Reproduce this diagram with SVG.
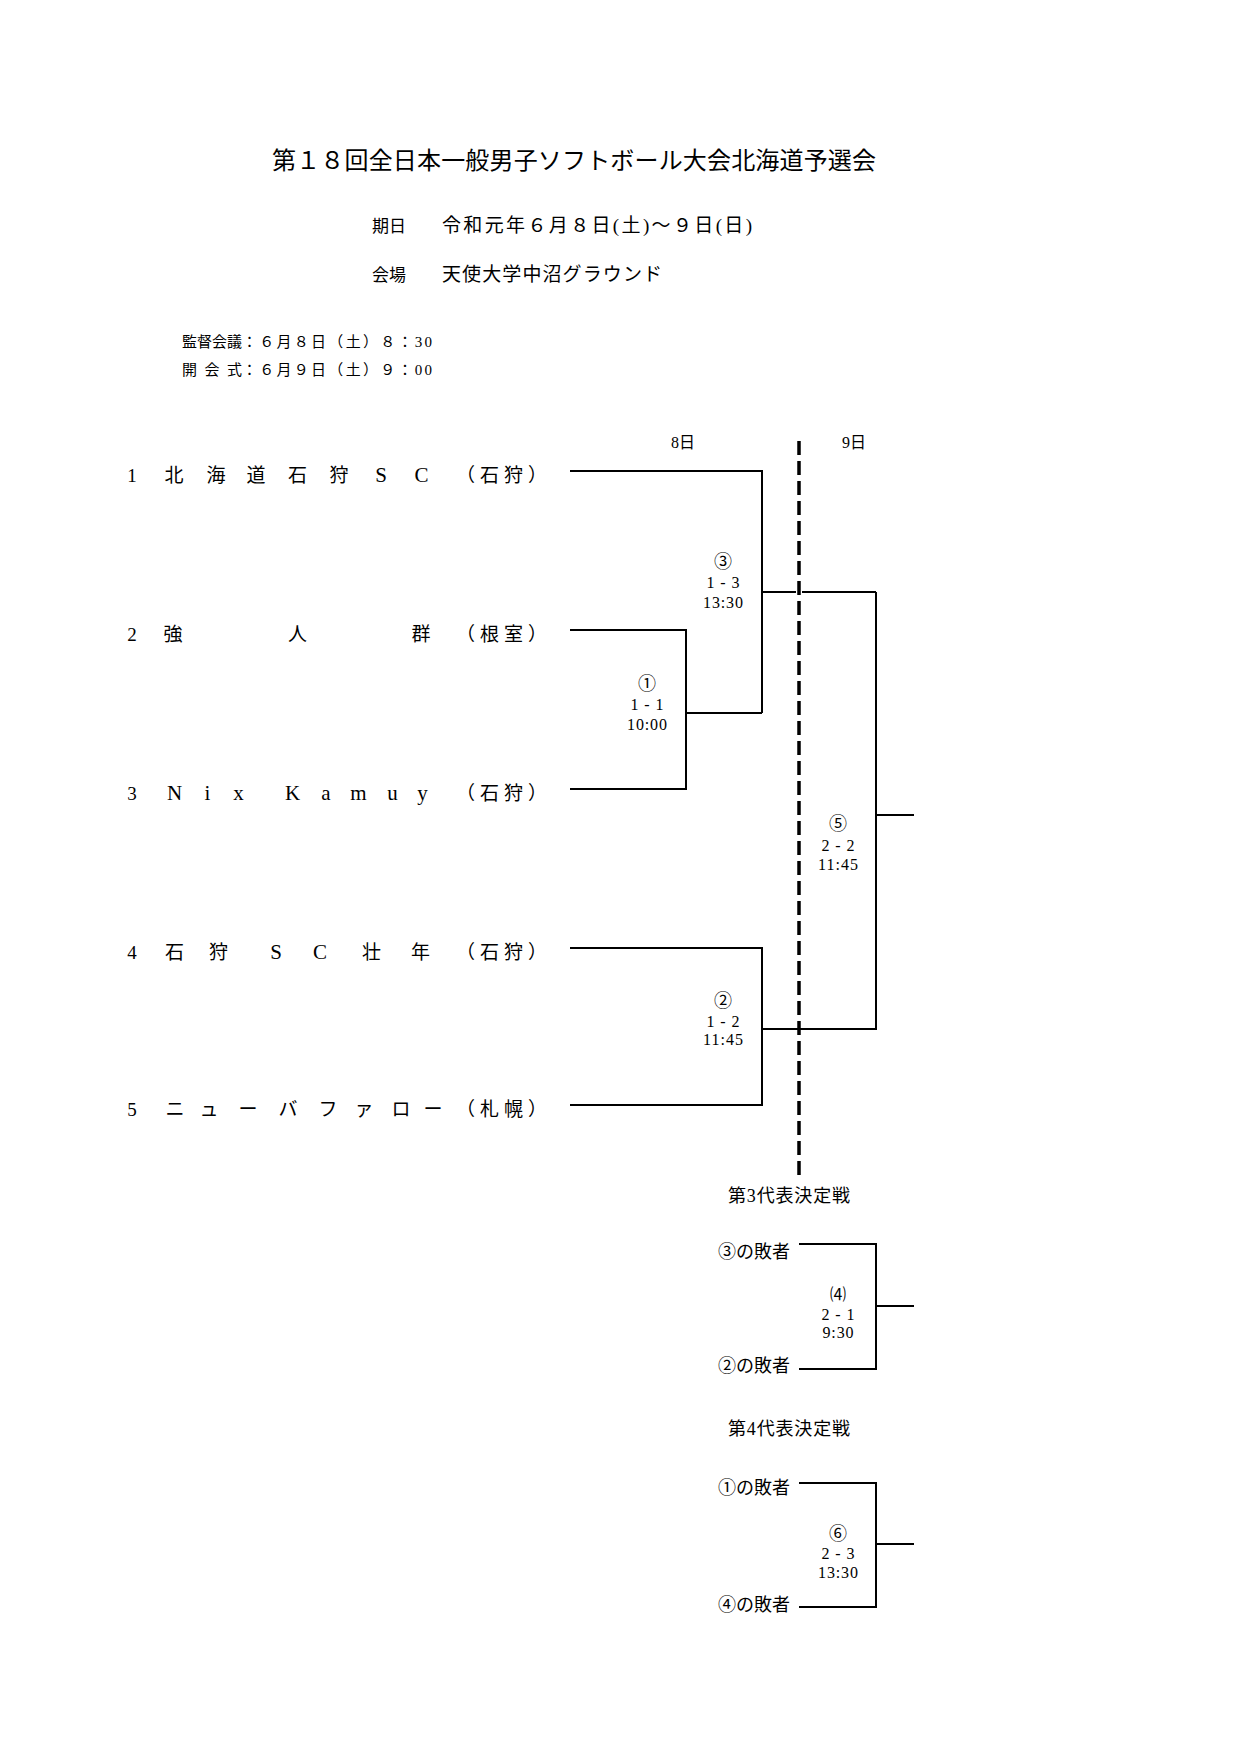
<svg xmlns="http://www.w3.org/2000/svg" width="1239" height="1754" viewBox="0 0 1239 1754">
<style>
text { font-family: "Liberation Serif", "Noto Sans CJK JP", serif; fill: #000; font-weight: normal; }
.team { font-size: 19px; }
.lat { font-size: 21px; }
.mid { text-anchor: middle; }
.reg { letter-spacing: 5px; }
.lbl { font-size: 16px; text-anchor: middle; }
.cn { font-size: 18px; }
.los { font-size: 18px; }
.ln { stroke: #000; stroke-width: 2; fill: none; }
.dash { stroke: #000; stroke-width: 3.5; fill: none; stroke-dasharray: 14 6; }
</style>
<rect width="1239" height="1754" fill="#fff"/>

<g id="header">
  <text x="272" y="169" font-size="24" textLength="604" lengthAdjust="spacing">第１８回全日本一般男子ソフトボール大会北海道予選会</text>
  <text x="372" y="232" font-size="17">期日</text>
  <text x="442" y="232" font-size="19" textLength="310" lengthAdjust="spacing">令和元年６月８日(土)～９日(日)</text>
  <text x="372" y="281" font-size="17">会場</text>
  <text x="442" y="281" font-size="19" textLength="220" lengthAdjust="spacing">天使大学中沼グラウンド</text>
  <text x="182" y="347" font-size="15">監督会議<tspan x="242" textLength="190" lengthAdjust="spacing">：６月８日（土）８：30</tspan></text>
  <text x="182" y="375" font-size="15"><tspan x="182" textLength="60" lengthAdjust="spacing">開会式</tspan><tspan x="242" textLength="190" lengthAdjust="spacing">：６月９日（土）９：00</tspan></text>
  <text x="683" y="448" font-size="16" class="mid">8日</text>
  <text x="854" y="448" font-size="16" class="mid">9日</text>
</g>

<g id="connectors">
  <path class="dash" d="M799 441 V1176"/>
  <path class="ln" d="M570 471 H762 V713"/>
  <path class="ln" d="M570 630 H686 V789 H570"/>
  <path class="ln" d="M686 713 H762"/>
  <path class="ln" d="M762 592 H796 M802 592 H876"/>
  <path class="ln" d="M570 948 H762 V1105 H570"/>
  <path class="ln" d="M762 1029 H876 V592"/>
  <path class="ln" d="M876 815 H914"/>
  <path class="ln" d="M799 1244 H876 V1369 H799"/>
  <path class="ln" d="M876 1306 H914"/>
  <path class="ln" d="M799 1483 H876 V1607 H799"/>
  <path class="ln" d="M876 1544 H914"/>
</g>

<g id="team1" class="team">
  <text x="132" y="482" class="mid">1</text>
  <text x="174 216 256 297.5 339" y="482" class="mid">北海道石狩</text>
  <text x="381 421.5" y="482" class="mid lat">SC</text>
  <text x="456" y="482" class="reg">（石狩）</text>
</g>
<g id="team2" class="team">
  <text x="132" y="641" class="mid">2</text>
  <text x="173 297.5 421" y="641" class="mid">強人群</text>
  <text x="456" y="641" class="reg">（根室）</text>
</g>
<g id="team3" class="team">
  <text x="132" y="800" class="mid">3</text>
  <text x="174.5 207.5 238.5 292.5 326 358.5 392.5 422.5" y="800" class="mid lat">NixKamuy</text>
  <text x="456" y="800" class="reg">（石狩）</text>
</g>
<g id="team4" class="team">
  <text x="132" y="959" class="mid">4</text>
  <text x="174.5 218.5" y="959" class="mid">石狩</text>
  <text x="276 320" y="959" class="mid lat">SC</text>
  <text x="371.5 420.5" y="959" class="mid">壮年</text>
  <text x="456" y="959" class="reg">（石狩）</text>
</g>
<g id="team5" class="team">
  <text x="132" y="1116" class="mid">5</text>
  <text x="175 209 248 288 328 364 401 433" y="1116" class="mid">ニューバファロー</text>
  <text x="456" y="1116" class="reg">（札幌）</text>
</g>

<g id="match1" class="lbl">
  <text x="647" y="690" class="cn">①</text>
  <text x="647" y="710" textLength="33">1 - 1</text>
  <text x="647" y="730" textLength="40">10:00</text>
</g>
<g id="match3" class="lbl">
  <text x="723" y="568" class="cn">③</text>
  <text x="723" y="588" textLength="33">1 - 3</text>
  <text x="723" y="608" textLength="40">13:30</text>
</g>
<g id="match2" class="lbl">
  <text x="723" y="1007" class="cn">②</text>
  <text x="723" y="1027" textLength="33">1 - 2</text>
  <text x="723" y="1045" textLength="40">11:45</text>
</g>
<g id="match5" class="lbl">
  <text x="838" y="830" class="cn">⑤</text>
  <text x="838" y="851" textLength="33">2 - 2</text>
  <text x="838" y="870" textLength="40">11:45</text>
</g>

<g id="third-place">
  <text x="728" y="1202" font-size="18" textLength="122" lengthAdjust="spacing">第3代表決定戦</text>
  <text x="718" y="1258" class="los">③の敗者</text>
  <text x="718" y="1372" class="los">②の敗者</text>
</g>
<g id="match4" class="lbl">
  <text x="838" y="1300">⑷</text>
  <text x="838" y="1320" textLength="33">2 - 1</text>
  <text x="838" y="1338" textLength="31">9:30</text>
</g>

<g id="fourth-place">
  <text x="728" y="1435" font-size="18" textLength="122" lengthAdjust="spacing">第4代表決定戦</text>
  <text x="718" y="1494" class="los">①の敗者</text>
  <text x="718" y="1611" class="los">④の敗者</text>
</g>
<g id="match6" class="lbl">
  <text x="838" y="1540" class="cn">⑥</text>
  <text x="838" y="1559" textLength="33">2 - 3</text>
  <text x="838" y="1578" textLength="40">13:30</text>
</g>
</svg>
